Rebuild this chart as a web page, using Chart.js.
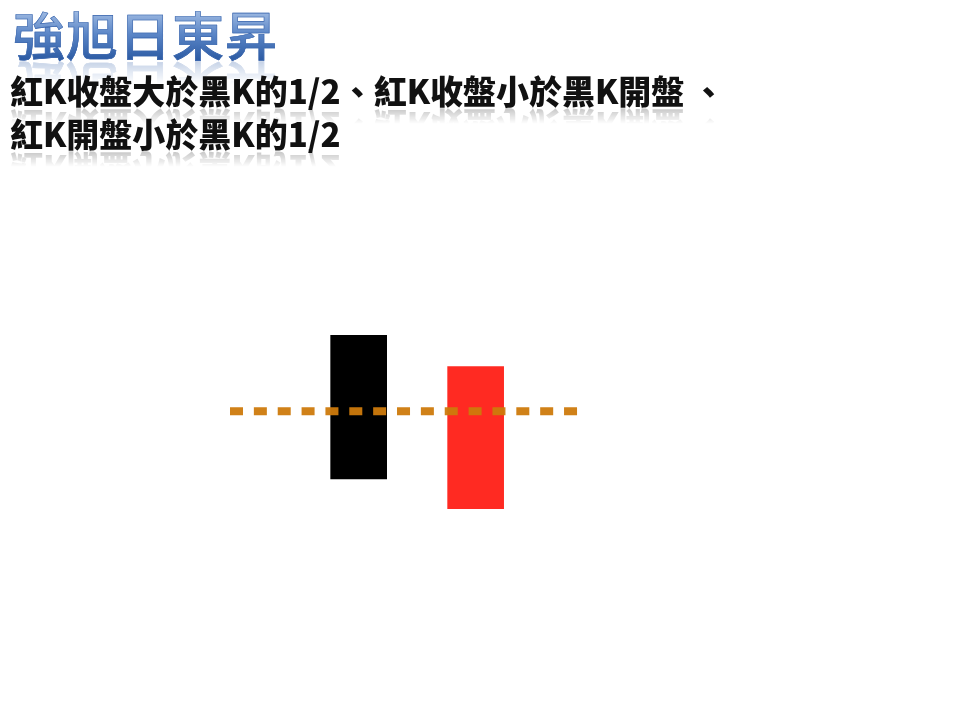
<!DOCTYPE html>
<html>
<head>
<meta charset="utf-8">
<script src="https://cdn.jsdelivr.net/npm/chart.js@4"></script>
<style>
  html, body { margin: 0; padding: 0; background: #fff; }
  #wrap { position: relative; width: 960px; height: 720px; overflow: hidden; }
  #myChart { position: absolute; left: 0; top: 0; }
  .title {
    position: absolute; left: 13px; top: 1px; margin: 0;
    font-family: "Noto Sans CJK TC", "Noto Sans CJK SC", sans-serif;
    font-size: 52px; font-weight: 500; line-height: 66px; letter-spacing: 1px;
    background: linear-gradient(#a9c2e6 10%, #5b86c7 50%, #2b5aa3 90%);
    -webkit-background-clip: text; background-clip: text; color: transparent;
    -webkit-text-stroke: 0.6px #3b66ad;
    -webkit-box-reflect: below -12px linear-gradient(transparent 55%, rgba(255,255,255,0.35));
  }
  .sub {
    position: absolute; left: 10px; margin: 0; white-space: pre;
    font-family: "Noto Sans CJK TC", "Noto Sans CJK SC", sans-serif;
    font-size: 33px; font-weight: 900; line-height: 44px; color: #111;
    -webkit-box-reflect: below -8px linear-gradient(transparent 55%, rgba(255,255,255,0.3));
  }
</style>
</head>
<body>
<div id="wrap">
  <div class="title">強旭日東昇</div>
  <div class="sub" style="top:68px">紅K收盤大於黑K的1/2、紅K收盤小於黑K開盤 、</div>
  <div class="sub" style="top:111px">紅K開盤小於黑K的1/2</div>
  <canvas id="myChart" width="960" height="720"></canvas>
</div>
<script>
// two candles, black first then red
var candles = ['黑K', '紅K'];
var candleX = [0, 1];
var openPrice = [100, 87.9];
var closePrice = [90, 97.8];
var candleColors = ['#000000', '#ff2a22'];

// dashed half-way line of the black candle
var halfLineX = [-1.1, 1.875];
var halfLineY = [94.7, 94.7];

var ctx = document.getElementById('myChart');

var barData = candleX.map(function (x, i) {
    return { x: x, y: [openPrice[i], closePrice[i]] };
});
var lineData = halfLineX.map(function (x, i) {
    return { x: x, y: halfLineY[i] };
});

new Chart(ctx, {
    data: {
        datasets: [{
            type: 'line',
            label: '1/2',
            data: lineData,
            borderColor: 'rgba(206,122,12,0.95)',
            borderWidth: 8,
            borderDash: [13, 10.86],
            borderCapStyle: 'butt',
            pointRadius: 0,
            fill: false,
            order: 0
        }, {
            type: 'bar',
            label: 'K',
            data: barData,
            backgroundColor: candleColors,
            borderWidth: 0,
            barThickness: 56,
            order: 1
        }]
    },
    options: {
        responsive: false,
        animation: false,
        layout: {
            padding: { left: 230, right: 382, top: 335, bottom: 211 }
        },
        scales: {
            x: { type: 'linear', min: -1.1, max: 1.875, offset: false, display: false },
            y: { type: 'linear', min: 87.9, max: 100, display: false }
        },
        plugins: {
            legend: { display: false },
            tooltip: { enabled: false }
        }
    }
});
</script>
</body>
</html>
